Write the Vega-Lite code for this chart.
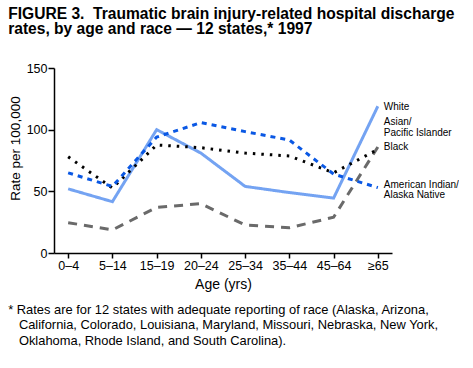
{
  "$schema": "https://vega.github.io/schema/vega-lite/v6.json",
  "background": "white",
  "padding": {"left": 8, "top": 6, "right": 0, "bottom": 0},
  "config": {
    "font": "Liberation Sans",
    "view": {"stroke": null},
    "axis": {"domainColor": "black", "tickColor": "black", "labelColor": "black", "titleColor": "black", "grid": false, "domainWidth": 1.5, "tickWidth": 1.5, "tickSize": 6, "labelFontSize": 12.5, "titleFontSize": 13.5, "titleFontWeight": "normal", "labelFont": "Liberation Sans", "titleFont": "Liberation Sans"}
  },
  "title": {
    "text": ["FIGURE 3.\u00a0 Traumatic brain injury-related hospital discharge", "rates, by age and race \u2014 12 states,* 1997"],
    "anchor": "start",
    "fontSize": 15.6,
    "fontWeight": "bold",
    "font": "Liberation Sans",
    "color": "black",
    "lineHeight": 15.5,
    "offset": 24
  },
  "vconcat": [
    {
      "width": 338,
      "height": 185,
      "title": {
        "text": ["* Rates are for 12 states with adequate reporting of race (Alaska, Arizona,", "\u200b\u00a0\u00a0 California, Colorado, Louisiana, Maryland, Missouri, Nebraska, New York,", "\u200b\u00a0\u00a0 Oklahoma, Rhode Island, and South Carolina)."],
        "orient": "bottom",
        "anchor": "start",
        "fontSize": 12.9,
        "fontWeight": "normal",
        "font": "Liberation Sans",
        "color": "black",
        "lineHeight": 15.5,
        "offset": 12
      },
      "layer": [
        {
          "data": {"values": [
            {"age": "0\u20134", "race": "Asian/Pacific Islander", "rate": 24.6},
            {"age": "5\u201314", "race": "Asian/Pacific Islander", "rate": 18.7},
            {"age": "15\u201319", "race": "Asian/Pacific Islander", "rate": 37},
            {"age": "20\u201324", "race": "Asian/Pacific Islander", "rate": 40},
            {"age": "25\u201334", "race": "Asian/Pacific Islander", "rate": 22.7},
            {"age": "35\u201344", "race": "Asian/Pacific Islander", "rate": 20.5},
            {"age": "45\u201364", "race": "Asian/Pacific Islander", "rate": 29},
            {"age": "\u226565", "race": "Asian/Pacific Islander", "rate": 86},
            {"age": "0\u20134", "race": "White", "rate": 52},
            {"age": "5\u201314", "race": "White", "rate": 41.6},
            {"age": "15\u201319", "race": "White", "rate": 100},
            {"age": "20\u201324", "race": "White", "rate": 81},
            {"age": "25\u201334", "race": "White", "rate": 54},
            {"age": "35\u201344", "race": "White", "rate": 49},
            {"age": "45\u201364", "race": "White", "rate": 44.5},
            {"age": "\u226565", "race": "White", "rate": 119},
            {"age": "0\u20134", "race": "Black", "rate": 78},
            {"age": "5\u201314", "race": "Black", "rate": 52.7},
            {"age": "15\u201319", "race": "Black", "rate": 87.6},
            {"age": "20\u201324", "race": "Black", "rate": 85.4},
            {"age": "25\u201334", "race": "Black", "rate": 81},
            {"age": "35\u201344", "race": "Black", "rate": 78.7},
            {"age": "45\u201364", "race": "Black", "rate": 65},
            {"age": "\u226565", "race": "Black", "rate": 84},
            {"age": "0\u20134", "race": "American Indian/Alaska Native", "rate": 65},
            {"age": "5\u201314", "race": "American Indian/Alaska Native", "rate": 54},
            {"age": "15\u201319", "race": "American Indian/Alaska Native", "rate": 94},
            {"age": "20\u201324", "race": "American Indian/Alaska Native", "rate": 105.7},
            {"age": "25\u201334", "race": "American Indian/Alaska Native", "rate": 98.4},
            {"age": "35\u201344", "race": "American Indian/Alaska Native", "rate": 91.6},
            {"age": "45\u201364", "race": "American Indian/Alaska Native", "rate": 64},
            {"age": "\u226565", "race": "American Indian/Alaska Native", "rate": 53}
          ]},
          "mark": {"type": "line", "strokeWidth": 3, "strokeCap": "butt"},
          "encoding": {
            "x": {"field": "age", "type": "ordinal", "sort": null,
                  "scale": {"type": "point", "padding": 0.32},
                  "axis": {"title": "Age (yrs)", "labelAngle": 0, "tickSize": 5, "labelPadding": 1, "titlePadding": 6, "titleFontSize": 14}},
            "y": {"field": "rate", "type": "quantitative",
                  "scale": {"domain": [0, 150], "nice": false},
                  "axis": {"title": "Rate per 100,000", "values": [0, 50, 100, 150], "labelPadding": 1, "titlePadding": 4, "titleY": 80}},
            "color": {"field": "race", "type": "nominal", "legend": null,
                      "scale": {"domain": ["Asian/Pacific Islander", "White", "Black", "American Indian/Alaska Native"],
                                "range": ["#6a6a6a", "#74a3f2", "#000000", "#0a58e4"]}},
            "strokeDash": {"field": "race", "type": "nominal", "legend": null,
                           "scale": {"domain": ["Asian/Pacific Islander", "White", "Black", "American Indian/Alaska Native"],
                                     "range": [[9, 7], [1, 0], [2.5, 6], [5, 5]]}},
            "order": {"field": "race", "type": "nominal"}
          }
        },
        {
          "data": {"values": [
            {"age": "\u226565", "label": "White", "pos": 118},
            {"age": "\u226565", "label": "Asian/", "pos": 106.6},
            {"age": "\u226565", "label": "Pacific Islander", "pos": 97.7},
            {"age": "\u226565", "label": "Black", "pos": 86.2},
            {"age": "\u226565", "label": "American Indian/", "pos": 55.5},
            {"age": "\u226565", "label": "Alaska Native", "pos": 47.4}
          ]},
          "mark": {"type": "text", "align": "left", "baseline": "middle", "dx": 6, "fontSize": 10, "color": "black", "font": "Liberation Sans"},
          "encoding": {
            "x": {"field": "age", "type": "ordinal", "sort": null},
            "y": {"field": "pos", "type": "quantitative"},
            "text": {"field": "label"}
          }
        }
      ]
    }
  ]
}
